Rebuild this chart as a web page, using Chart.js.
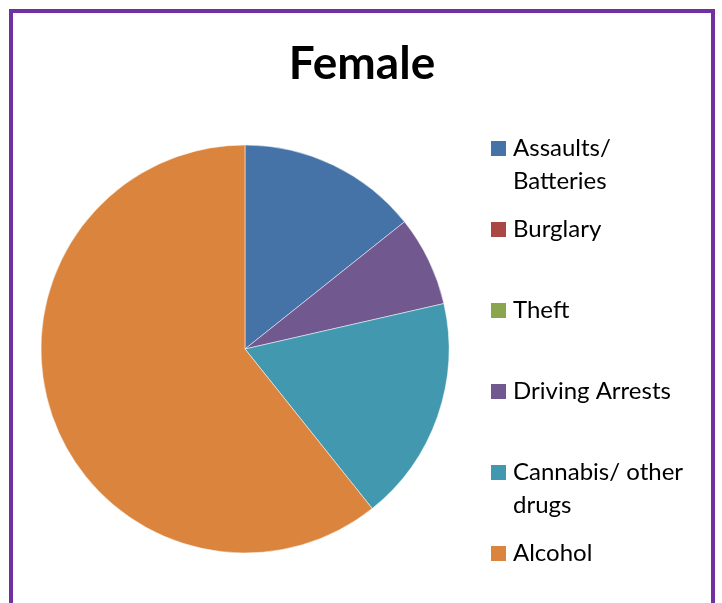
<!DOCTYPE html>
<html>
<head>
<meta charset="utf-8">
<script src="https://cdn.jsdelivr.net/npm/chart.js@4"></script>
<style>
  html, body { margin: 0; padding: 0; background: #fff; overflow: hidden; }
  #wrap { position: relative; width: 722px; height: 603px; }
  #frame { position: absolute; left: 9px; top: 9px; width: 698px; height: 700px; border: 4px solid #7030A0; box-sizing: content-box; }
  #c { position: absolute; left: 0; top: 0; }
</style>
</head>
<body>
<div id="wrap">
  <div id="frame"></div>
  <canvas id="c" width="722" height="603"></canvas>
</div>
<script>
const chartTitle = "Female";
const categories = ["Assaults/ Batteries", "Burglary", "Theft", "Driving Arrests", "Cannabis/ other drugs", "Alcohol"];
const values = [4, 0, 0, 2, 5, 17];
const colors = ["#4572A7", "#AA4643", "#89A54E", "#71588F", "#4198AF", "#DB843D"];

const FONT = "Lato, 'Open Sans', sans-serif";

function wrapText(ctx, text, maxW) {
  const words = text.split(" ");
  const lines = [];
  let cur = "";
  for (const w of words) {
    const t = cur ? cur + " " + w : w;
    if (ctx.measureText(t).width > maxW && cur) { lines.push(cur); cur = w; }
    else cur = t;
  }
  if (cur) lines.push(cur);
  return lines;
}

const titleLegendPlugin = {
  id: "titleLegend",
  afterDraw(chart) {
    const ctx = chart.ctx;
    ctx.save();
    // title
    ctx.fillStyle = "#000";
    ctx.font = "bold 46px " + FONT;
    ctx.textAlign = "center";
    ctx.textBaseline = "alphabetic";
    ctx.fillText(chartTitle, 362, 79);
    // legend
    ctx.font = "24px " + FONT;
    ctx.textAlign = "left";
    const bg = chart.data.datasets[0].backgroundColor;
    chart.data.labels.forEach((lab, i) => {
      const base = 156 + i * 81;
      ctx.fillStyle = bg[i];
      ctx.fillRect(491, base - 15, 15, 15);
      ctx.fillStyle = "#000";
      const lines = wrapText(ctx, lab, 185);
      lines.forEach((ln, j) => ctx.fillText(ln, 513, base + j * 33));
    });
    ctx.restore();
  }
};

new Chart(document.getElementById("c"), {
  type: "pie",
  data: {
    labels: categories,
    datasets: [{
      data: values,
      backgroundColor: colors,
      borderColor: "rgba(255,255,255,0.5)",
      borderWidth: 1,
      radius: 204
    }]
  },
  options: {
    responsive: false,
    animation: false,
    devicePixelRatio: 1,
    layout: { padding: { left: 20, right: 252, top: 100, bottom: 5 } },
    plugins: {
      legend: { display: false },
      title: { display: false },
      tooltip: { enabled: false }
    }
  },
  plugins: [titleLegendPlugin]
});
</script>
</body>
</html>
